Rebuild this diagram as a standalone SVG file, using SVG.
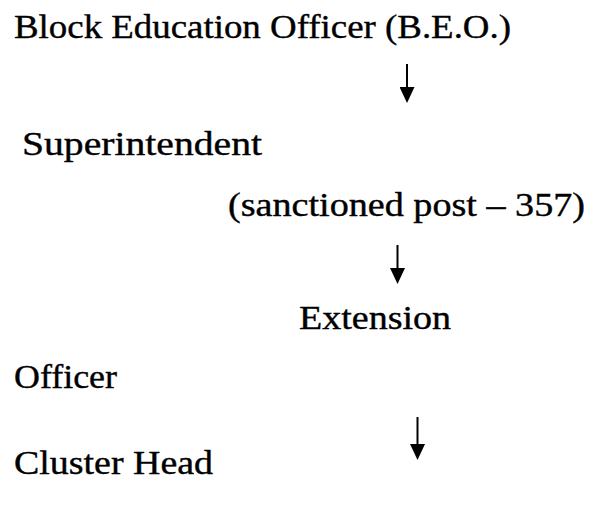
<svg xmlns="http://www.w3.org/2000/svg" width="592" height="512" viewBox="0 0 592 512">
  <defs>
    <style>
      .lbl { font-family: "Liberation Serif", "DejaVu Serif", serif; font-size: 34.7px; fill: #000; stroke: #000; stroke-width: 0.4px; }
      .conn { stroke: #000; stroke-width: 2; fill: none; }
    </style>
    <marker id="ah" markerUnits="userSpaceOnUse" viewBox="0 0 16 15" refX="12" refY="7.5" markerWidth="16" markerHeight="15" orient="auto">
      <path d="M0,0 L16,7.5 L0,15 z" fill="#000"/>
    </marker>
  </defs>
  <rect width="592" height="512" fill="#fff"/>
  <g id="connectors">
    <line class="conn" x1="407" y1="64" x2="407" y2="99" marker-end="url(#ah)"/>
    <line class="conn" x1="397.5" y1="245" x2="397.5" y2="280" marker-end="url(#ah)"/>
    <line class="conn" x1="417.5" y1="417" x2="417.5" y2="456" marker-end="url(#ah)"/>
  </g>
  <g id="beo">
    <text class="lbl" x="14" y="38" textLength="497" lengthAdjust="spacingAndGlyphs">Block Education Officer (B.E.O.)</text>
  </g>
  <g id="superintendent">
    <text class="lbl" x="22" y="155" textLength="240" lengthAdjust="spacingAndGlyphs">Superintendent</text>
    <text class="lbl" x="228" y="216" textLength="357" lengthAdjust="spacingAndGlyphs">(sanctioned post – 357)</text>
  </g>
  <g id="extension-officer">
    <text class="lbl" x="299" y="329" textLength="152" lengthAdjust="spacingAndGlyphs">Extension</text>
    <text class="lbl" x="14" y="388" textLength="103" lengthAdjust="spacingAndGlyphs">Officer</text>
  </g>
  <g id="cluster-head">
    <text class="lbl" x="14" y="474" textLength="199" lengthAdjust="spacingAndGlyphs">Cluster Head</text>
  </g>
</svg>
